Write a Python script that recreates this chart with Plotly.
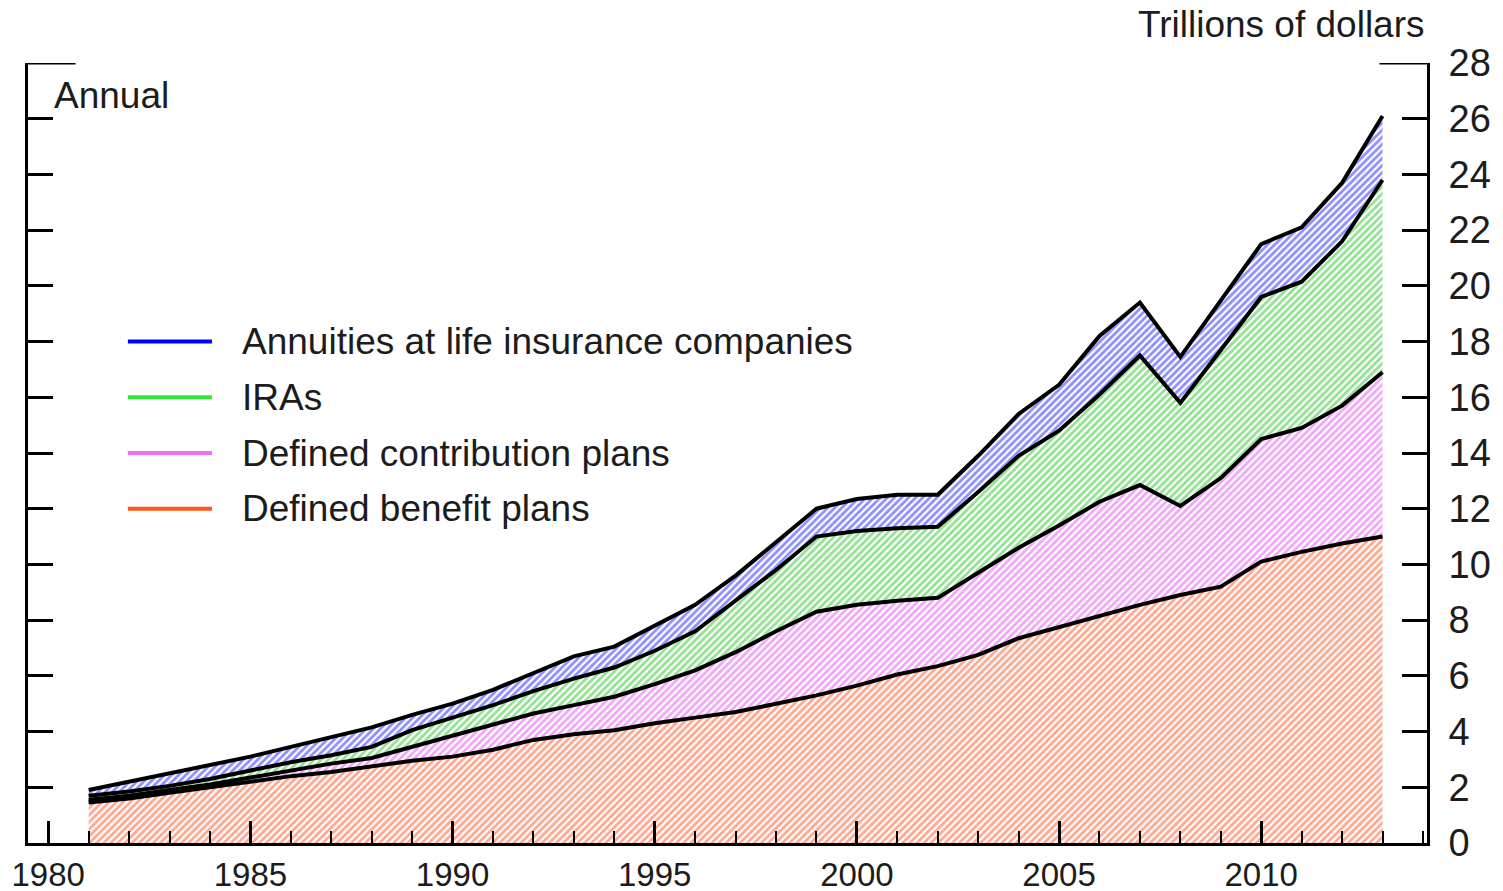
"""Retirement assets stacked area chart (hatched fills) recreated with plotly."""
import plotly.graph_objects as go

years = list(range(1981, 2014))

# cumulative top of each layer, trillions of dollars
db_top = [1.45, 1.6, 1.8, 2.0, 2.2, 2.4, 2.55, 2.75, 2.95, 3.1,
          3.35, 3.7, 3.9, 4.05, 4.3, 4.5, 4.7, 5.0, 5.3, 5.65,
          6.05, 6.35, 6.75, 7.35, 7.75, 8.15, 8.55, 8.9, 9.2, 10.1,
          10.45, 10.75, 11.0]
dc_top = [1.55, 1.7, 1.9, 2.1, 2.35, 2.6, 2.85, 3.05, 3.45, 3.85,
          4.25, 4.65, 4.95, 5.25, 5.7, 6.2, 6.85, 7.6, 8.3, 8.55,
          8.7, 8.8, 9.7, 10.6, 11.4, 12.25, 12.85, 12.1, 13.1, 14.5,
          14.9, 15.7, 16.9]
ira_top = [1.7, 1.85, 2.05, 2.3, 2.6, 2.9, 3.15, 3.45, 4.05, 4.5,
           4.95, 5.45, 5.9, 6.3, 6.9, 7.6, 8.7, 9.8, 11.0, 11.2,
           11.3, 11.35, 12.6, 13.9, 14.8, 16.1, 17.5, 15.8, 17.7, 19.6,
           20.15, 21.6, 23.8]
total_top = [1.9, 2.2, 2.5, 2.8, 3.1, 3.45, 3.8, 4.15, 4.6, 5.0,
             5.5, 6.1, 6.7, 7.05, 7.8, 8.55, 9.6, 10.8, 12.0, 12.35,
             12.5, 12.5, 13.9, 15.4, 16.45, 18.2, 19.4, 17.45, 19.5, 21.5,
             22.1, 23.7, 26.1]

series_names = ["Annuities at life insurance companies", "IRAs",
                "Defined contribution plans", "Defined benefit plans"]
legend_colors = ["#0000FF", "#33E633", "#F070F0", "#FF5A1E"]
hatch_colors = ["#1E1EFF", "#28C428", "#E050F0", "#FF5020"]

y_ticks = list(range(0, 29, 2))
x_ticks = list(range(1980, 2011, 5))

FONT = "Arial, Liberation Sans, sans-serif"
TEXT = "#1c1c1c"
FS = 37

fig = go.Figure()

layers = [
    (db_top, hatch_colors[3], "tozeroy"),
    (dc_top, hatch_colors[2], "tonexty"),
    (ira_top, hatch_colors[1], "tonexty"),
    (total_top, hatch_colors[0], "tonexty"),
]
for tops, col, fill in layers:
    fig.add_trace(go.Scatter(
        x=years, y=tops, mode="lines", fill=fill,
        fillcolor="rgba(0,0,0,0)",
        fillpattern=dict(shape="/", fgcolor=col, bgcolor="white",
                         size=5, solidity=0.55),
        line=dict(color="black", width=4),
        showlegend=False, hoverinfo="skip",
    ))

# legend drawn by hand: short coloured line + label
legend_rows_y = [18, 16, 14, 12]
for name, col, yv in zip(series_names, legend_colors, legend_rows_y):
    fig.add_shape(type="line", xref="x", yref="y",
                  x0=1981.97, x1=1984.05, y0=yv, y1=yv,
                  line=dict(color=col, width=4))
    fig.add_annotation(x=1984.75, y=yv, xref="x", yref="y", text=name,
                       showarrow=False, xanchor="left", yanchor="middle",
                       font=dict(size=FS, color=TEXT, family=FONT))

# longer corner segments at the top of the frame
fig.add_shape(type="line", xref="paper", yref="y", x0=0, x1=0.034,
              y0=28, y1=28, line=dict(color="black", width=3))
fig.add_shape(type="line", xref="paper", yref="y", x0=0.966, x1=1,
              y0=28, y1=28, line=dict(color="black", width=3))

fig.add_annotation(x=1980.1, y=26.85, xref="x", yref="y", text="Annual",
                   showarrow=False, xanchor="left", yanchor="middle",
                   font=dict(size=FS, color=TEXT, family=FONT))
fig.add_annotation(x=1.0, y=1.049, xref="paper", yref="paper",
                   text="Trillions of dollars", showarrow=False,
                   xanchor="right", yanchor="middle",
                   font=dict(size=FS, color=TEXT, family=FONT))

# page body adds an 8px offset, so the figure is sized 8px smaller
fig.update_layout(
    width=1495, height=883,
    margin=dict(l=20, r=76, t=55, b=48),
    plot_bgcolor="white", paper_bgcolor="white",
    font=dict(family=FONT, size=FS, color=TEXT),
    showlegend=False,
    xaxis=dict(range=[1979.5, 2014.1], tickvals=x_ticks, ticks="inside",
               ticklen=22, tickwidth=3, tickcolor="black",
               minor=dict(dtick=1, tick0=1980, ticks="inside", ticklen=12,
                          tickwidth=1.5, tickcolor="black"),
               showline=True, linecolor="black", linewidth=3,
               showgrid=False, zeroline=False, automargin=False,
               tickfont=dict(size=33), ticklabeloverflow="allow",
               ticklabelstandoff=0),
    yaxis=dict(range=[0, 28], tickvals=y_ticks, side="right", ticks="inside",
               ticklen=25, tickwidth=3, tickcolor="black", mirror="ticks",
               showline=True, linecolor="black", linewidth=3,
               showgrid=False, zeroline=False, automargin=False,
               tickfont=dict(size=38), ticklabelstandoff=11),
)

fig.write_html("out.html")
